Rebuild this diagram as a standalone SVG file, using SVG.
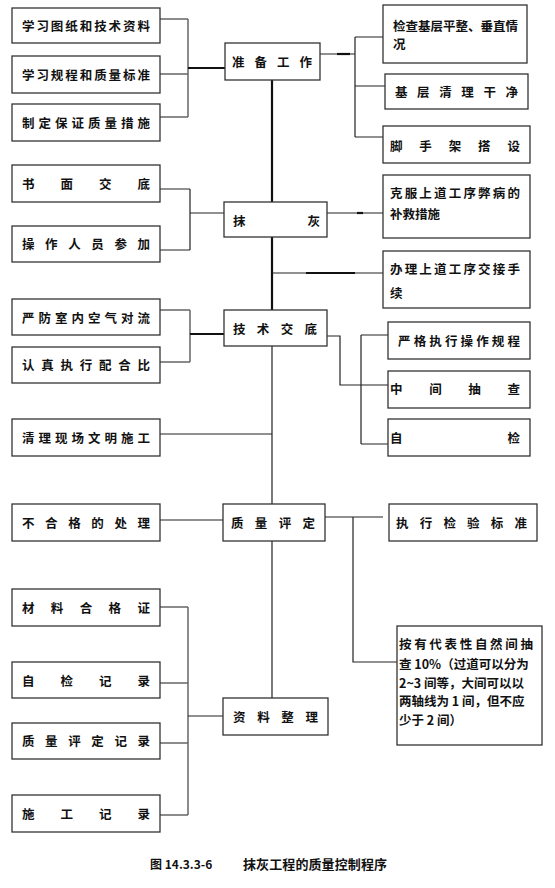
<svg xmlns="http://www.w3.org/2000/svg" width="555" height="888" viewBox="0 0 555 888">
<style>
.b{fill:#fff;stroke:#333;stroke-width:1.3}
.t{font-family:"Noto Sans CJK SC","Noto Sans CJK JP",sans-serif;font-size:12.5px;font-weight:bold;fill:#111;dominant-baseline:central}
.g{fill:none;stroke:#666;stroke-width:1.5}
.k{fill:none;stroke:#111;stroke-width:2.2}
.n{fill:none;stroke:#222;stroke-width:1.2}
</style>
<rect width="555" height="888" fill="#fff"/>
<g id="connectors">
<path class="g" d="M160 19H188M160 74H188M160 117H188M188 19V117"/>
<path class="k" d="M188 68H225"/>
<path class="n" d="M320 54H355M355 37V137M355 37H383M355 86H385M355 137H383"/>
<path class="k" d="M337 54H350"/>
<path class="k" d="M272 80V310"/>
<path class="n" d="M272 346V504M272 541V698"/>
<path class="n" d="M160 189H190M160 250H190M190 189V250M190 213H224"/>
<path class="n" d="M327 213H383"/>
<path class="k" d="M357 213H363"/>
<path class="n" d="M272 273H383"/>
<path class="k" d="M306 273H355"/>
<path class="g" d="M160 310H190M160 362H190M190 310V362"/>
<path class="k" d="M190 334H224"/>
<path class="n" d="M327 336H340V385H388M361 335V444M361 335H388M361 444H388"/>
<path class="n" d="M160 434H272"/>
<path class="n" d="M160 520H223"/>
<path class="n" d="M325 517H383M353 517V662H397"/>
<path class="g" d="M160 607H188M160 683H188M160 743H188M160 815H188M188 607V815"/>
<path class="n" d="M188 716H223"/>
</g>
<g id="n1"><rect class="b" x="12" y="8" width="148" height="35"/><text class="t" x="22" y="25" textLength="128" lengthAdjust="spacing">学习图纸和技术资料</text></g>
<g id="n2"><rect class="b" x="12" y="56" width="148" height="37"/><text class="t" x="22" y="74" textLength="128" lengthAdjust="spacing">学习规程和质量标准</text></g>
<g id="n3"><rect class="b" x="12" y="104" width="148" height="37"/><text class="t" x="22" y="122" textLength="128" lengthAdjust="spacing">制定保证质量措施</text></g>
<g id="n4"><rect class="b" x="225" y="43" width="95" height="37"/><text class="t" x="232" y="61" textLength="80" lengthAdjust="spacing">准备工作</text></g>
<g id="n5"><rect class="b" x="383" y="5" width="144" height="58"/><text class="t" x="393" y="25" textLength="125" lengthAdjust="spacing">检查基层平整、垂直情</text><text class="t" x="393" y="43">况</text></g>
<g id="n6"><rect class="b" x="385" y="74" width="143" height="35"/><text class="t" x="395" y="91" textLength="123" lengthAdjust="spacing">基层清理干净</text></g>
<g id="n7"><rect class="b" x="383" y="126" width="147" height="37"/><text class="t" x="390" y="145" textLength="130" lengthAdjust="spacing">脚手架搭设</text></g>
<g id="n8"><rect class="b" x="12" y="165" width="148" height="37"/><text class="t" x="22" y="183" textLength="128" lengthAdjust="spacing">书面交底</text></g>
<g id="n9"><rect class="b" x="12" y="226" width="148" height="36"/><text class="t" x="22" y="243" textLength="128" lengthAdjust="spacing">操作人员参加</text></g>
<g id="n10"><rect class="b" x="224" y="202" width="103" height="35"/><text class="t" x="233" y="220" textLength="87" lengthAdjust="spacing">抹灰</text></g>
<g id="n11"><rect class="b" x="383" y="175" width="147" height="63"/><text class="t" x="390" y="192" textLength="130" lengthAdjust="spacing">克服上道工序弊病的</text><text class="t" x="390" y="213">补救措施</text></g>
<g id="n12"><rect class="b" x="383" y="251" width="147" height="57"/><text class="t" x="390" y="268" textLength="130" lengthAdjust="spacing">办理上道工序交接手</text><text class="t" x="390" y="292">续</text></g>
<g id="n13"><rect class="b" x="12" y="299" width="148" height="36"/><text class="t" x="22" y="317" textLength="128" lengthAdjust="spacing">严防室内空气对流</text></g>
<g id="n14"><rect class="b" x="12" y="347" width="148" height="36"/><text class="t" x="22" y="364" textLength="128" lengthAdjust="spacing">认真执行配合比</text></g>
<g id="n15"><rect class="b" x="224" y="310" width="103" height="36"/><text class="t" x="233" y="328" textLength="84" lengthAdjust="spacing">技术交底</text></g>
<g id="n16"><rect class="b" x="388" y="322" width="142" height="37"/><text class="t" x="398" y="340" textLength="122" lengthAdjust="spacing">严格执行操作规程</text></g>
<g id="n17"><rect class="b" x="388" y="371" width="142" height="37"/><text class="t" x="390" y="388" textLength="130" lengthAdjust="spacing">中间抽查</text></g>
<g id="n18"><rect class="b" x="388" y="419" width="142" height="37"/><text class="t" x="390" y="437" textLength="130" lengthAdjust="spacing">自检</text></g>
<g id="n19"><rect class="b" x="12" y="419" width="148" height="37"/><text class="t" x="22" y="437" textLength="128" lengthAdjust="spacing">清理现场文明施工</text></g>
<g id="n20"><rect class="b" x="12" y="504" width="148" height="37"/><text class="t" x="22" y="522" textLength="128" lengthAdjust="spacing">不合格的处理</text></g>
<g id="n21"><rect class="b" x="223" y="504" width="102" height="37"/><text class="t" x="231" y="522" textLength="84" lengthAdjust="spacing">质量评定</text></g>
<g id="n22"><rect class="b" x="389" y="504" width="148" height="37"/><text class="t" x="396" y="522" textLength="131" lengthAdjust="spacing">执行检验标准</text></g>
<g id="n23"><rect class="b" x="397" y="626" width="145" height="119"/>
<text class="t" x="399" y="643" textLength="134" lengthAdjust="spacing">按有代表性自然间抽</text>
<text class="t" x="399" y="663">查 10%（过道可以分为</text>
<text class="t" x="399" y="682">2~3 间等，大间可以以</text>
<text class="t" x="399" y="700">两轴线为 1 间，但不应</text>
<text class="t" x="399" y="719">少于 2 间）</text></g>
<g id="n24"><rect class="b" x="12" y="589" width="148" height="37"/><text class="t" x="22" y="607" textLength="128" lengthAdjust="spacing">材料合格证</text></g>
<g id="n25"><rect class="b" x="12" y="662" width="148" height="36"/><text class="t" x="22" y="680" textLength="128" lengthAdjust="spacing">自检记录</text></g>
<g id="n26"><rect class="b" x="12" y="723" width="148" height="36"/><text class="t" x="22" y="740" textLength="128" lengthAdjust="spacing">质量评定记录</text></g>
<g id="n27"><rect class="b" x="12" y="795" width="148" height="37"/><text class="t" x="22" y="813" textLength="128" lengthAdjust="spacing">施工记录</text></g>
<g id="n28"><rect class="b" x="223" y="698" width="105" height="37"/><text class="t" x="233" y="716" textLength="85" lengthAdjust="spacing">资料整理</text></g>
<g id="caption">
<text class="t" x="150" y="863" style="font-size:12px">图 14.3.3-6</text>
<text class="t" x="243" y="863" textLength="144" lengthAdjust="spacing" style="font-size:13px">抹灰工程的质量控制程序</text>
</g>
</svg>
